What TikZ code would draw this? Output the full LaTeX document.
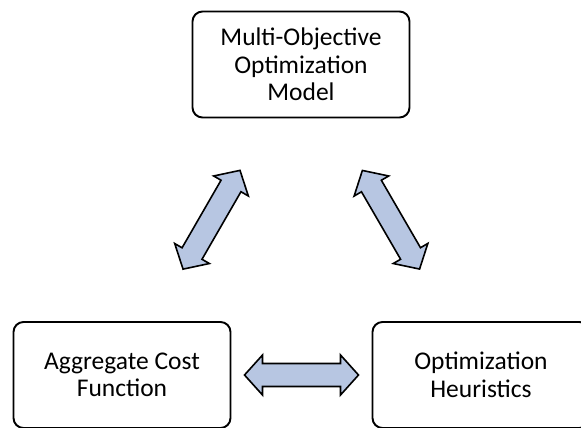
\documentclass[tikz,border=0pt]{standalone}
\usepackage{fontspec}
\setmainfont{Carlito}
\definecolor{arrowfill}{RGB}{183,198,226}
\begin{document}
\begin{tikzpicture}[x=1pt,y=-1pt,
  box/.style={draw=black, line width=1.9pt, rounded corners=10pt,
    minimum width=217pt, minimum height=106pt, inner sep=0pt,
    align=center, font=\fontsize{25.5}{27.5}\selectfont},
  arrowbody/.style={draw=black, line width=1.6pt, fill=arrowfill, line join=miter},
  pics/dblarrow/.style={code={
    \path[arrowbody] (-57,0) -- (-39,-20) -- (-39,-11.5) -- (39,-11.5) -- (39,-20)
      -- (57,0) -- (39,20) -- (39,11.5) -- (-39,11.5) -- (-39,20) -- cycle;}}]
\useasboundingbox (0,0) rectangle (581,428);
\clip (0,0) rectangle (581,428);
% the three model components
\node[box] (model) at (301,64.5) {Multi-Objective\\Optimization\\Model};
\node[box] (cost) at (122,375) {Aggregate Cost\\Function};
\node[box] (heur) at (481,375) {Optimization\\Heuristics};
% two-way links between the components
\path (model) -- pic[sloped]{dblarrow} (cost);
\path (model) -- pic[sloped]{dblarrow} (heur);
\path (cost) -- pic[sloped]{dblarrow} (heur);
\end{tikzpicture}
\end{document}
